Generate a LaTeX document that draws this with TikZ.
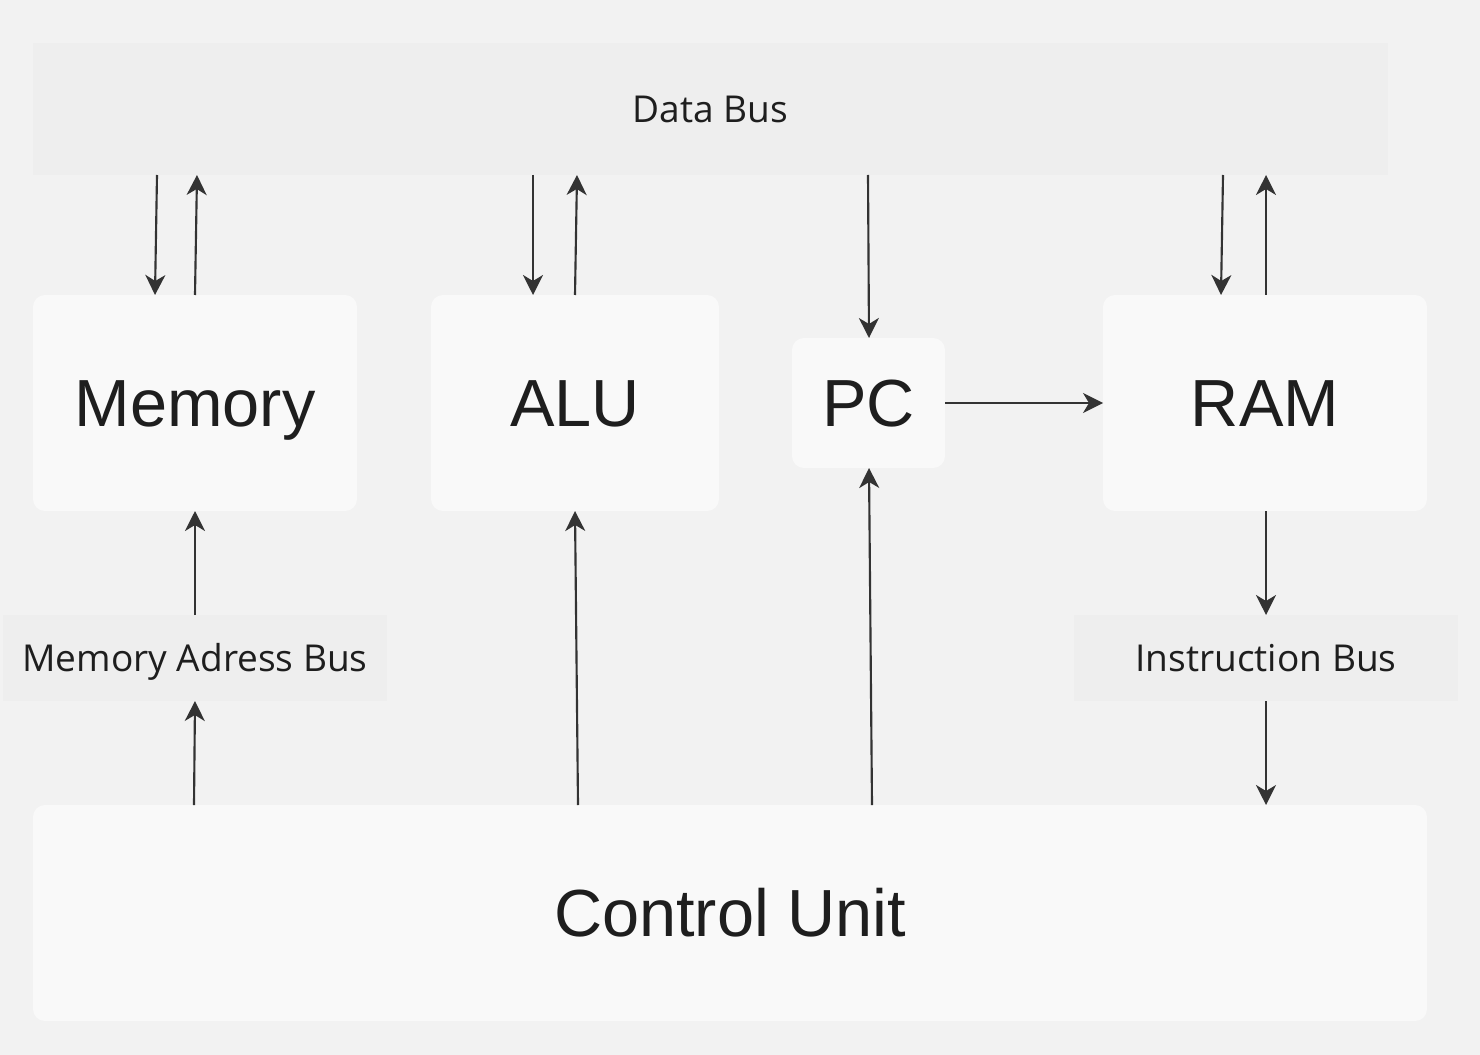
\documentclass[tikz,border=0pt]{standalone}
\usepackage{fontspec}
\setmainfont{Liberation Sans}
\newfontfamily\busfont{Open Sans}
\usetikzlibrary{arrows.meta,calc}
\definecolor{bg}{HTML}{F2F2F2}
\definecolor{busfill}{HTML}{EEEEEE}
\definecolor{boxfill}{HTML}{F9F9F9}
\definecolor{ink}{HTML}{333333}
\definecolor{txt}{HTML}{1E1E1E}
\tikzset{
  blk/.style={fill=boxfill, draw=none, rounded corners=9pt, inner sep=0pt, outer sep=0pt,
    text=txt, font=\fontsize{50}{55}\selectfont, text height=35.8pt, text depth=0pt},
  bus/.style={fill=busfill, draw=none, inner sep=0pt, outer sep=0pt,
    text=txt, font=\busfont\fontsize{27.8}{32}\selectfont, text height=19.8pt, text depth=0pt},
  arr/.style={draw=ink, line width=1.6pt, -{Stealth[length=15pt,width=15pt,inset=4.5pt]}}
}
\begin{document}
\begin{tikzpicture}[x=0.75pt,y=-0.75pt]
\fill[bg] (0,0) rectangle (1480,1055);
\useasboundingbox (0,0) rectangle (1480,1055);
\node[bus, minimum width=1016.25pt, minimum height=99pt] (db) at (710.5,109) {Data Bus};
\node[blk, minimum width=243pt, minimum height=162pt] (mem) at (195,403) {Memory};
\node[blk, minimum width=216pt, minimum height=162pt] (alu) at (575,403) {ALU};
\node[blk, minimum width=114.75pt, minimum height=97.5pt] (pc) at (868.5,403) {PC};
\node[blk, minimum width=243pt, minimum height=162pt] (ram) at (1265,403) {RAM};
\node[bus, minimum width=288pt, minimum height=64.5pt] (mab) at (195,658) {Memory Adress Bus};
\node[bus, minimum width=288pt, minimum height=64.5pt] (ib) at (1266,658) {Instruction Bus};
\node[blk, minimum width=1045.5pt, minimum height=162pt] (cu) at (730,913) {Control Unit};
% data bus <-> memory
\draw[arr] (db.south -| 157,0) -- (mem.north -| 155,0);
\draw[arr] (mem.north -| 195,0) -- (db.south -| 197,0);
% data bus <-> alu
\draw[arr] (db.south -| 533,0) -- (alu.north -| 533,0);
\draw[arr] (alu.north -| 575,0) -- (db.south -| 577,0);
% data bus -> pc
\draw[arr] (db.south -| 868,0) -- (pc.north -| 869,0);
% data bus <-> ram
\draw[arr] (db.south -| 1223,0) -- (ram.north -| 1221,0);
\draw[arr] (ram.north -| 1266,0) -- (db.south -| 1266,0);
% pc -> ram
\draw[arr] (pc.east) -- (ram.west);
% mab -> memory, cu -> mab
\draw[arr] (mab.north -| 195,0) -- (mem.south -| 195,0);
\draw[arr] (cu.north -| 194,0) -- (mab.south -| 195,0);
% cu -> alu, cu -> pc
\draw[arr] (cu.north -| 578,0) -- (alu.south -| 575,0);
\draw[arr] (cu.north -| 872,0) -- (pc.south -| 869,0);
% ram -> ib -> cu
\draw[arr] (ram.south -| 1266,0) -- (ib.north -| 1266,0);
\draw[arr] (ib.south -| 1266,0) -- (cu.north -| 1266,0);
\end{tikzpicture}
\end{document}
